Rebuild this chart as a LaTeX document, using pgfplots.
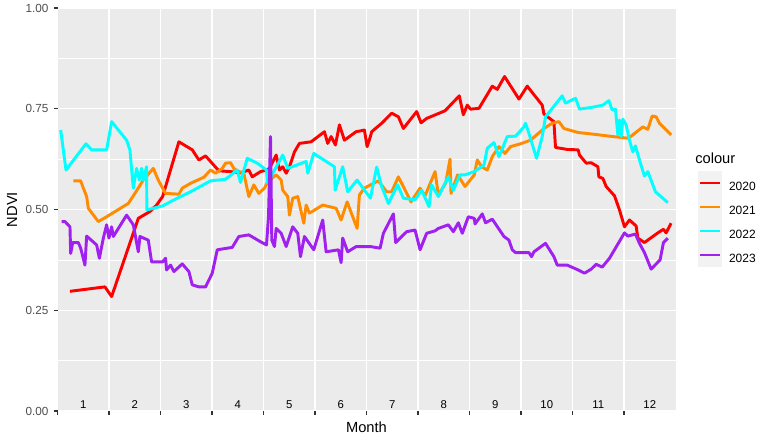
\documentclass[border=0pt]{standalone}
\usepackage{pgfplots}
\pgfplotsset{compat=1.18}
\usepackage{fontspec}
\setmainfont{Liberation Sans}
\definecolor{panelbg}{HTML}{EBEBEB}
\definecolor{legbg}{HTML}{F2F2F2}
\definecolor{ticktext}{HTML}{4D4D4D}
\definecolor{tickmark}{HTML}{333333}
\definecolor{c2020}{HTML}{FF0000}
\definecolor{c2021}{HTML}{FF8C00}
\definecolor{c2022}{HTML}{00FFFF}
\definecolor{c2023}{HTML}{A020F0}
\begin{document}
\begin{tikzpicture}
\useasboundingbox (0,0) rectangle (579.75pt,331.5pt);
\begin{axis}[
  at={(43.125pt,23.25pt)}, anchor=south west,
  scale only axis, width=463.5pt, height=302.25pt,
  xmin=0, xmax=12, ymin=0, ymax=1,
  axis background/.style={fill=panelbg},
  axis line style={draw=none},
  tick pos=left, tick align=outside,
  major tick length=2.75pt, minor tick length=0pt,
  every tick/.style={tickmark, line width=0.8pt},
  xtick={0,1,...,11}, xticklabels={},
  ytick={0,0.25,0.5,0.75,1},
  minor ytick={0.125,0.375,0.625,0.875},
  xmajorgrids, ymajorgrids, yminorgrids,
  major grid style={white, line width=0.8pt},
  minor grid style={white, line width=0.4pt},
  yticklabel style={font=\fontsize{8.8}{10}\selectfont, text=ticktext, xshift=-0.5pt},
  /pgf/number format/assume math mode=true,
  yticklabel={\pgfmathprintnumber[fixed, fixed zerofill, precision=2]{\tick}},
  xlabel={Month}, ylabel={NDVI},
  label style={font=\fontsize{11}{13}\selectfont},
  xlabel style={at={(axis description cs:0.5,-0.0397)}, anchor=center},
  ylabel style={at={(axis description cs:-0.0736,0.5)}, anchor=center},
  legend style={at={(axis description cs:1.0364,0.5956)}, anchor=north west,
    draw=none, fill=none, inner sep=0pt, outer sep=0pt, row sep=0pt, column sep=0pt,
    font=\fontsize{9}{10}\selectfont, nodes={inner sep=0pt, outer sep=0pt}},
  legend cell align=left,
  legend image code/.code={
    \path[fill=legbg, draw=none, line width=0pt] (0pt,-5.85pt) rectangle (18pt,12.15pt);
    \draw[#1] (1.5pt,3.15pt) -- (16.5pt,3.15pt);
    \path[draw=none] (23.25pt,3.15pt);
  },
  every axis plot/.append style={line width=2.2pt, line join=round, mark=none},
  clip=false,
]
\addplot[c2020] table {
x y
0.242 0.297
0.921 0.308
1.051 0.284
1.503 0.453
1.569 0.478
1.794 0.495
1.924 0.511
2.041 0.532
2.357 0.668
2.617 0.648
2.745 0.623
2.875 0.633
3.133 0.596
3.360 0.594
3.554 0.591
3.715 0.598
3.781 0.581
3.942 0.594
4.058 0.598
4.116 0.602
4.246 0.635
4.310 0.598
4.374 0.606
4.440 0.590
4.504 0.606
4.601 0.643
4.698 0.664
4.925 0.668
5.183 0.693
5.247 0.664
5.313 0.681
5.397 0.660
5.474 0.710
5.571 0.672
5.798 0.693
5.959 0.697
6.012 0.656
6.076 0.681
6.101 0.693
6.295 0.714
6.489 0.739
6.619 0.730
6.716 0.701
6.974 0.743
7.059 0.715
7.168 0.726
7.525 0.745
7.802 0.782
7.880 0.735
7.957 0.759
8.021 0.749
8.184 0.751
8.442 0.806
8.539 0.798
8.681 0.830
8.960 0.774
9.121 0.806
9.412 0.759
9.445 0.737
9.639 0.718
9.670 0.654
9.897 0.649
10.110 0.648
10.136 0.635
10.266 0.615
10.363 0.616
10.493 0.606
10.512 0.581
10.590 0.577
10.654 0.557
10.815 0.534
10.912 0.499
11.009 0.457
11.106 0.474
11.236 0.459
11.269 0.429
11.397 0.418
11.657 0.442
11.766 0.451
11.818 0.442
11.915 0.466
};
\addlegendentry{2020}
\addplot[c2021] table {
x y
0.308 0.571
0.450 0.571
0.502 0.553
0.566 0.532
0.599 0.503
0.793 0.470
0.954 0.482
1.375 0.515
1.503 0.540
1.666 0.573
1.860 0.602
1.957 0.573
2.041 0.553
2.099 0.540
2.357 0.538
2.423 0.553
2.584 0.565
2.842 0.580
2.972 0.598
3.069 0.590
3.199 0.602
3.263 0.615
3.360 0.616
3.424 0.602
3.490 0.596
3.618 0.590
3.715 0.532
3.812 0.561
3.909 0.540
4.019 0.553
4.083 0.569
4.246 0.586
4.343 0.573
4.374 0.548
4.471 0.532
4.504 0.486
4.568 0.528
4.665 0.532
4.782 0.466
4.828 0.511
4.892 0.491
5.150 0.511
5.410 0.503
5.507 0.474
5.624 0.519
5.818 0.453
5.862 0.536
5.959 0.553
6.076 0.561
6.231 0.571
6.392 0.544
6.489 0.544
6.619 0.581
6.865 0.519
7.040 0.553
7.137 0.534
7.331 0.594
7.395 0.536
7.536 0.565
7.622 0.625
7.641 0.540
7.769 0.586
7.913 0.557
8.093 0.586
8.151 0.623
8.235 0.606
8.345 0.598
8.442 0.631
8.572 0.656
8.689 0.639
8.797 0.656
8.991 0.663
9.185 0.672
9.445 0.701
9.606 0.714
9.736 0.718
9.833 0.701
10.110 0.691
10.396 0.687
10.784 0.681
11.075 0.677
11.139 0.682
11.366 0.705
11.463 0.699
11.546 0.732
11.624 0.730
11.688 0.714
11.915 0.685
};
\addlegendentry{2021}
\addplot[c2022] table {
x y
0.062 0.697
0.165 0.598
0.553 0.663
0.663 0.648
0.954 0.648
1.051 0.718
1.342 0.672
1.406 0.648
1.472 0.553
1.536 0.602
1.589 0.573
1.633 0.602
1.666 0.573
1.730 0.606
1.735 0.499
1.860 0.503
2.041 0.509
2.326 0.528
2.584 0.544
2.972 0.571
3.263 0.575
3.490 0.598
3.554 0.567
3.684 0.627
3.878 0.615
4.058 0.598
4.077 0.566
4.215 0.598
4.374 0.635
4.471 0.602
4.828 0.619
4.860 0.590
4.976 0.639
5.377 0.606
5.391 0.548
5.538 0.606
5.635 0.544
5.818 0.573
6.076 0.528
6.198 0.605
6.295 0.557
6.425 0.515
6.605 0.561
6.716 0.528
6.943 0.524
7.071 0.548
7.214 0.507
7.265 0.561
7.395 0.532
7.589 0.581
7.686 0.548
7.816 0.586
7.913 0.586
8.093 0.594
8.281 0.610
8.345 0.652
8.475 0.666
8.572 0.631
8.733 0.681
8.894 0.682
9.057 0.705
9.088 0.714
9.154 0.689
9.302 0.627
9.412 0.681
9.476 0.730
9.800 0.782
9.864 0.764
9.994 0.772
10.060 0.776
10.136 0.749
10.396 0.754
10.590 0.759
10.706 0.770
10.770 0.747
10.834 0.749
10.881 0.685
10.912 0.722
10.945 0.681
10.978 0.724
11.042 0.710
11.106 0.672
11.172 0.643
11.222 0.658
11.300 0.623
11.397 0.583
11.463 0.594
11.610 0.544
11.851 0.517
};
\addlegendentry{2022}
\addplot[c2023] table {
x y
0.081 0.470
0.145 0.470
0.242 0.457
0.256 0.391
0.295 0.418
0.405 0.418
0.450 0.404
0.533 0.362
0.566 0.434
0.760 0.412
0.813 0.379
0.890 0.429
0.954 0.462
0.999 0.429
1.051 0.457
1.084 0.433
1.342 0.486
1.472 0.462
1.569 0.395
1.600 0.433
1.763 0.424
1.827 0.370
2.041 0.370
2.099 0.379
2.118 0.350
2.196 0.362
2.260 0.346
2.423 0.365
2.551 0.346
2.617 0.313
2.745 0.308
2.875 0.308
3.005 0.342
3.102 0.400
3.393 0.406
3.521 0.433
3.715 0.437
3.942 0.420
4.058 0.412
4.097 0.482
4.136 0.681
4.161 0.424
4.213 0.408
4.246 0.453
4.343 0.441
4.440 0.408
4.568 0.457
4.665 0.441
4.718 0.383
4.795 0.433
4.976 0.400
5.150 0.474
5.216 0.395
5.455 0.400
5.507 0.368
5.538 0.429
5.635 0.395
5.798 0.408
6.076 0.408
6.264 0.404
6.328 0.441
6.522 0.489
6.566 0.418
6.780 0.445
6.943 0.449
7.040 0.400
7.168 0.441
7.331 0.447
7.395 0.453
7.589 0.462
7.686 0.445
7.783 0.467
7.860 0.441
7.977 0.482
8.093 0.478
8.107 0.464
8.248 0.489
8.312 0.467
8.442 0.476
8.669 0.433
8.766 0.424
8.830 0.400
8.894 0.393
9.154 0.393
9.205 0.383
9.251 0.395
9.476 0.416
9.639 0.383
9.703 0.362
9.897 0.362
10.110 0.350
10.233 0.342
10.363 0.352
10.460 0.364
10.576 0.357
10.718 0.379
11.009 0.442
11.075 0.434
11.222 0.439
11.300 0.416
11.397 0.393
11.527 0.352
11.701 0.375
11.766 0.418
11.851 0.429
};
\addlegendentry{2023}
\node[anchor=west, inner sep=0pt, font=\fontsize{11}{13}\selectfont] at (axis description cs:1.0316,0.6278) {colour};
\node[anchor=base, inner sep=0pt, font=\fontsize{8.5}{10}\selectfont] at (axis cs:0.5,0.005) {1};
\node[anchor=base, inner sep=0pt, font=\fontsize{8.5}{10}\selectfont] at (axis cs:1.5,0.005) {2};
\node[anchor=base, inner sep=0pt, font=\fontsize{8.5}{10}\selectfont] at (axis cs:2.5,0.005) {3};
\node[anchor=base, inner sep=0pt, font=\fontsize{8.5}{10}\selectfont] at (axis cs:3.5,0.005) {4};
\node[anchor=base, inner sep=0pt, font=\fontsize{8.5}{10}\selectfont] at (axis cs:4.5,0.005) {5};
\node[anchor=base, inner sep=0pt, font=\fontsize{8.5}{10}\selectfont] at (axis cs:5.5,0.005) {6};
\node[anchor=base, inner sep=0pt, font=\fontsize{8.5}{10}\selectfont] at (axis cs:6.5,0.005) {7};
\node[anchor=base, inner sep=0pt, font=\fontsize{8.5}{10}\selectfont] at (axis cs:7.5,0.005) {8};
\node[anchor=base, inner sep=0pt, font=\fontsize{8.5}{10}\selectfont] at (axis cs:8.5,0.005) {9};
\node[anchor=base, inner sep=0pt, font=\fontsize{8.5}{10}\selectfont] at (axis cs:9.5,0.005) {10};
\node[anchor=base, inner sep=0pt, font=\fontsize{8.5}{10}\selectfont] at (axis cs:10.5,0.005) {11};
\node[anchor=base, inner sep=0pt, font=\fontsize{8.5}{10}\selectfont] at (axis cs:11.5,0.005) {12};
\end{axis}
\end{tikzpicture}
\end{document}
